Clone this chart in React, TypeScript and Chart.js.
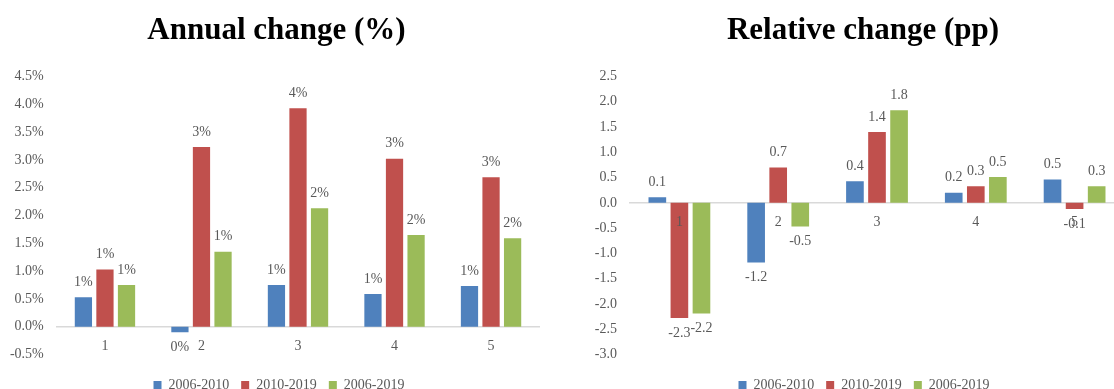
import React, { useEffect, useRef } from "react";
import { Chart, registerables } from "chart.js";

Chart.register(...registerables);

// ---------- data ----------
const categories = ["1", "2", "3", "4", "5"];
const seriesNames = ["2006-2010", "2010-2019", "2006-2019"];
const seriesColors = ["#4F81BD", "#C0504D", "#9BBB59"];

const annual2006_2010 = [0.53, -0.1, 0.75, 0.59, 0.73];
const annual2010_2019 = [1.03, 3.23, 3.93, 3.02, 2.69];
const annual2006_2019 = [0.75, 1.35, 2.13, 1.65, 1.59];

const relative2006_2010 = [0.11, -1.18, 0.43, 0.2, 0.46];
const relative2010_2019 = [-2.28, 0.7, 1.4, 0.33, -0.12];
const relative2006_2019 = [-2.19, -0.47, 1.83, 0.51, 0.33];

const annualTitle = "Annual change (%)";
const relativeTitle = "Relative change (pp)";
const annualAxis = { min: -0.5, max: 4.5, step: 0.5 };
const relativeAxis = { min: -3.0, max: 2.5, step: 0.5 };

const FONT = '"Liberation Serif", "Times New Roman", serif';
const GREY = "#595959";

const fmtAnnualTick = (v: number) => v.toFixed(1) + "%";
const fmtRelativeTick = (v: number) => v.toFixed(1);
const fmtAnnualLabel = (v: number) => {
  const r = Math.round(v);
  return (r === 0 ? 0 : r) + "%";
};
const fmtRelativeLabel = (v: number) => {
  const s = v.toFixed(1);
  return s === "-0.0" ? "0.0" : s;
};

function makeValueLabels(fmt: (v: number) => string) {
  return {
    id: "valueLabels",
    afterDatasetsDraw(chart: any) {
      const ctx = chart.ctx;
      ctx.save();
      ctx.font = `14px ${FONT}`;
      ctx.fillStyle = GREY;
      ctx.textAlign = "center";
      ctx.textBaseline = "middle";
      chart.data.datasets.forEach((ds: any, i: number) => {
        const meta = chart.getDatasetMeta(i);
        meta.data.forEach((bar: any, j: number) => {
          const v = ds.data[j] as number;
          const y = v >= 0 ? bar.y - 15 : bar.y + 15;
          ctx.fillText(fmt(v), bar.x, y);
        });
      });
      ctx.restore();
    },
  };
}

// nudges the title and legend boxes horizontally after layout
function makeShift(titleDx: number, legendDx: number) {
  return {
    id: "shiftBoxes",
    afterLayout(chart: any) {
      const t = chart.titleBlock;
      if (t) {
        t.left += titleDx;
        t.right += titleDx;
      }
      const l = chart.legend;
      if (l) {
        l.left += legendDx;
        l.right += legendDx;
      }
    },
  };
}

type PanelProps = {
  left: number;
  width: number;
  height: number;
  title: string;
  values: number[][];
  axis: { min: number; max: number; step: number };
  tickFmt: (v: number) => string;
  labelFmt: (v: number) => string;
  padL: number;
  padR: number;
  yAxisWidth: number;
  titleDx: number;
  legendDx: number;
};

function BarPanel(p: PanelProps) {
  const ref = useRef<HTMLCanvasElement>(null);
  useEffect(() => {
    const chart = new Chart(ref.current as HTMLCanvasElement, {
      type: "bar",
      data: {
        labels: categories,
        datasets: p.values.map((d, i) => ({
          label: seriesNames[i],
          data: d,
          backgroundColor: seriesColors[i],
          borderWidth: 0,
          barPercentage: 0.8,
          categoryPercentage: 0.67,
        })),
      },
      options: {
        responsive: false,
        animation: false,
        devicePixelRatio: 1,
        layout: { padding: { left: p.padL, right: p.padR, top: 0, bottom: 0 } },
        scales: {
          x: {
            position: { y: 0 } as any,
            grid: { display: false, drawTicks: false },
            border: { display: true, color: "#D9D9D9", width: 1.5 },
            ticks: { color: GREY, font: { family: FONT, size: 14 }, padding: 11, z: 1 } as any,
          },
          y: {
            min: p.axis.min,
            max: p.axis.max,
            grid: { display: false, drawTicks: false },
            border: { display: false },
            ticks: {
              stepSize: p.axis.step,
              color: GREY,
              font: { family: FONT, size: 14 },
              padding: 13,
              callback: (v: any) => p.tickFmt(Number(v)),
            },
            afterFit: (s: any) => {
              s.width = p.yAxisWidth;
            },
          },
        },
        plugins: {
          title: {
            display: true,
            text: p.title,
            color: "#000000",
            font: { family: FONT, size: 31, weight: "bold", lineHeight: 1.2 },
            padding: { top: 12, bottom: 27.3 },
          },
          legend: {
            position: "bottom",
            labels: {
              boxWidth: 8,
              boxHeight: 8,
              padding: 12,
              color: GREY,
              font: { family: FONT, size: 14 },
            },
            title: {
              display: true,
              text: " ",
              font: { family: FONT, size: 10, lineHeight: 1 },
              padding: { top: 0, bottom: 1.5 },
            },
          },
          tooltip: { enabled: false },
        },
      } as any,
      plugins: [makeValueLabels(p.labelFmt), makeShift(p.titleDx, p.legendDx)],
    });
    return () => chart.destroy();
  }, []);
  return (
    <canvas
      ref={ref}
      width={p.width}
      height={p.height}
      style={{ position: "absolute", left: p.left, top: 0, width: p.width, height: p.height }}
    />
  );
}

export default function App() {
  return (
    <div
      style={{
        position: "absolute",
        left: 0,
        top: 0,
        width: 1114,
        height: 389,
        overflow: "hidden",
        background: "#ffffff",
      }}
    >
      <BarPanel
        left={0}
        width={560}
        height={402}
        title={annualTitle}
        values={[annual2006_2010, annual2010_2019, annual2006_2019]}
        axis={annualAxis}
        tickFmt={fmtAnnualTick}
        labelFmt={fmtAnnualLabel}
        padL={8.7}
        padR={20.7}
        yAxisWidth={48}
        titleDx={2.5}
        legendDx={5}
      />
      <BarPanel
        left={557}
        width={580}
        height={402}
        title={relativeTitle}
        values={[relative2006_2010, relative2010_2019, relative2006_2019]}
        axis={relativeAxis}
        tickFmt={fmtRelativeTick}
        labelFmt={fmtRelativeLabel}
        padL={35}
        padR={13}
        yAxisWidth={38}
        titleDx={5}
        legendDx={6}
      />
    </div>
  );
}
